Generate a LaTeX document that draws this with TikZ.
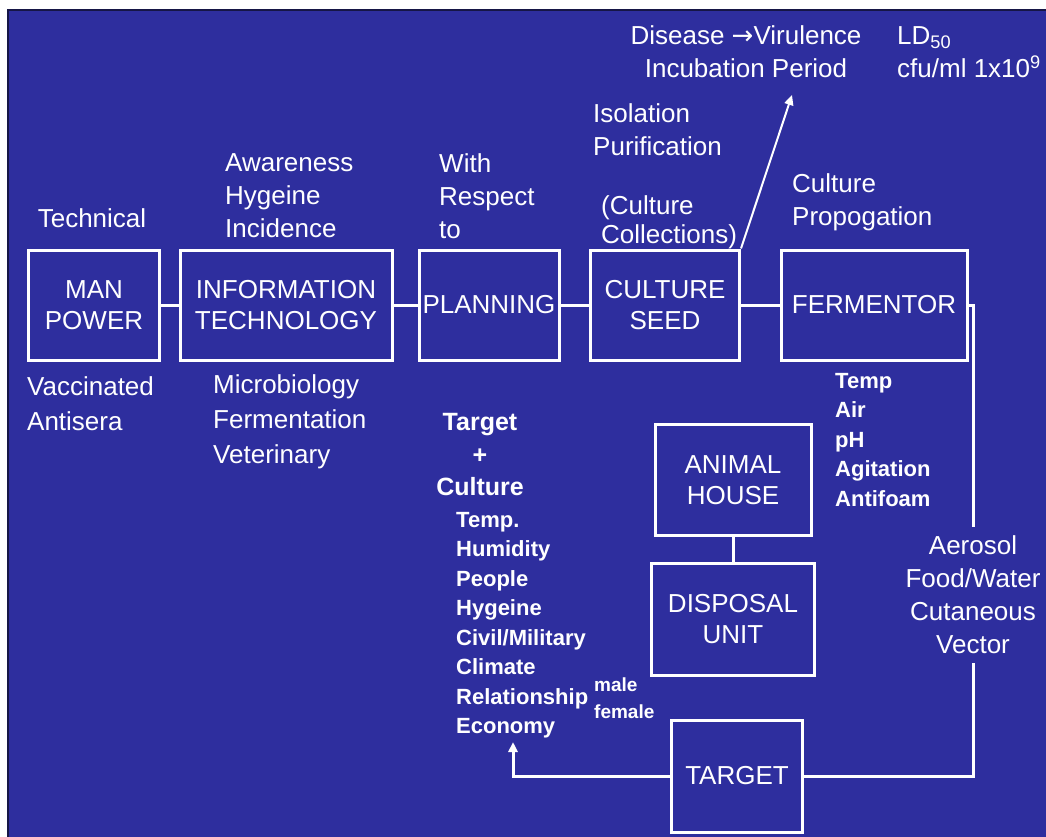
\documentclass[tikz,border=0pt]{standalone}
\usepackage{fontspec}
\setmainfont{Liberation Sans}
\newfontfamily\symfont{DejaVu Sans}
\usetikzlibrary{arrows.meta}
\definecolor{slideblue}{RGB}{46,46,158}
\definecolor{slideedge}{RGB}{22,22,70}

\begin{document}
\begin{tikzpicture}[x=1pt, y=-1pt,
    box/.style={draw=white, line width=3pt, text=white, align=center, inner sep=0pt,
      font=\fontsize{26}{31}\selectfont},
    txt/.style={text=white, inner sep=0pt, font=\fontsize{26}{33}\selectfont},
    bld/.style={text=white, inner sep=0pt, align=left, font=\bfseries\fontsize{22}{29.5}\selectfont},
    wire/.style={draw=white, line width=3pt},
    tip/.style={-{Triangle[length=10pt,width=9pt]}}]
      \useasboundingbox (0,0) rectangle (1046,837);
      \fill[white] (0,0) rectangle (1046,837);
      \fill[slideblue] (8,10) rectangle (1046,837);
      \draw[slideedge, line width=1.5pt] (8,837) -- (8,10) -- (1046,10);
      \node at (94,305)[box,minimum width=131,minimum height=110] (man){MAN\\POWER};
      \node at (286,305)[box,minimum width=212,minimum height=110] (info){INFORMATION\\TECHNOLOGY};
      \node at (489,305)[box,minimum width=140,minimum height=110] (plan){PLANNING};
      \node at (665,305)[box,minimum width=149,minimum height=110] (seed){CULTURE\\SEED};
      \node at (874,305)[box,minimum width=186,minimum height=110] (ferm){FERMENTOR};
      \node at (733,480)[box,minimum width=156,minimum height=111] (animal){ANIMAL\\HOUSE};
      \node at (733,619)[box,minimum width=163,minimum height=112] (disposal){DISPOSAL\\UNIT};
      \node at (737,776)[box,minimum width=131,minimum height=112] (target){TARGET};
      \node at (92,218)[txt] (technical){Technical};
      \node at (225,196)[txt,anchor=west,align=left] (aware){Awareness\\Hygeine\\Incidence};
      \node at (439,196)[txt,anchor=west,align=left] (respect){With\\Respect\\to};
      \node at (593,130)[txt,anchor=west,align=left] (isolation){Isolation\\Purification};
      \node at (601,222)[txt,anchor=west,align=left,font=\fontsize{26}{29}\selectfont] (collections){(Culture\\Collections)};
      \node at (792,202)[txt,anchor=west,align=left] (propogation){Culture\\Propogation};
      \node at (746,52)[txt,align=center] (disease){Disease {\symfont →}Virulence\\Incubation Period};
      \node at (897,52)[txt,anchor=west,align=left] (dose){LD\textsubscript{50}\\cfu/ml 1x10\textsuperscript{9}};
      \node at (27,404)[txt,anchor=west,align=left,font=\fontsize{26}{35}\selectfont] (vaccinated){Vaccinated\\Antisera};
      \node at (213,422)[txt,anchor=west,align=left,font=\fontsize{26}{35}\selectfont] (microbiology){Microbiology\\Fermentation\\Veterinary};
      \node at (835,440)[bld,anchor=west] (params){Temp\\Air\\pH\\Agitation\\Antifoam};
      \node at (480,455)[bld,align=center,font=\bfseries\fontsize{25}{32.5}\selectfont] (targetculture){Target\\+\\Culture};
      \node at (456,625)[bld,anchor=west] (factors){Temp.\\Humidity\\People\\Hygeine\\Civil/Military\\Climate\\Relationship\\Economy};
      \node at (594,698)[bld,anchor=west,font=\bfseries\fontsize{19}{27}\selectfont] (sex){male\\female};
      \node at (973,595)[txt,align=center,inner ysep=9pt] (route){Aerosol\\Food/Water\\Cutaneous\\Vector};
      \coordinate (virtip) at (792,95);
      \coordinate (econtip) at (513,742);
      \draw[wire] (man) -- (info) -- (plan) -- (seed) -- (ferm);
      \draw[wire] (animal) -- (disposal);
      \draw[wire] (ferm.east) -| (route.north);
      \draw[wire] (route.south) |- (target.east);
      \draw[wire,tip] (target.west) -| (econtip);
      \draw[white,line width=2pt,tip] (seed.north east) -- (virtip);
      \end{tikzpicture}
\end{document}
